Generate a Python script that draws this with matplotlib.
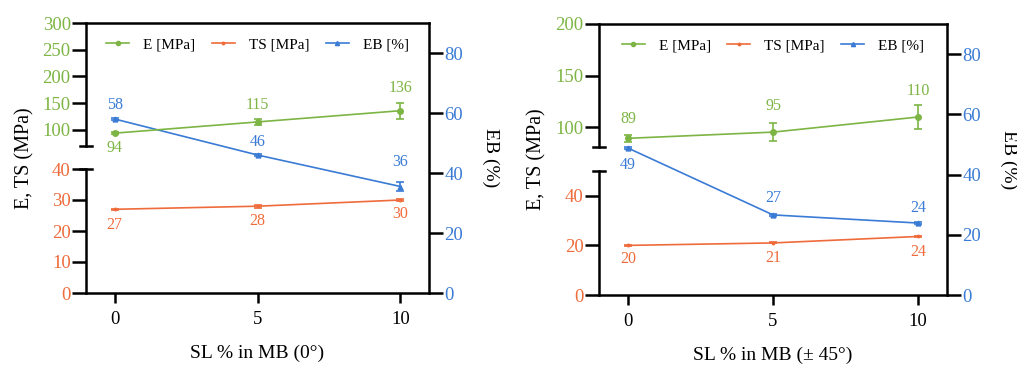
import matplotlib
matplotlib.use("Agg")
import matplotlib.pyplot as plt
from matplotlib.lines import Line2D

plt.rcParams["font.family"] = ["Liberation Serif", "DejaVu Serif"]

GREEN = "#7DB544"
ORANGE = "#EF6B3B"
BLUE = "#3A7BD5"

sl = [0, 5, 10]

# panel A: SL % in MB (0 deg)
e_0 = [94, 115, 136]
e_0_err = [1.5, 6, 15]
ts_0 = [27, 28, 30]
ts_0_err = [0.2, 0.5, 0.2]
eb_0 = [58, 46, 35.5]
eb_0_err = [0.3, 0.4, 1.6]

# panel B: SL % in MB (+/- 45 deg)
e_45 = [89.4, 95.4, 110]
e_45_err = [3.2, 9, 11.5]
ts_45 = [20, 21, 23.6]
ts_45_err = [0.2, 0.2, 0.2]
eb_45 = [48.8, 26.6, 23.9]
eb_45_err = [0.3, 0.4, 0.3]

W, H = 1017, 367


def rect(x0, x1, ytop, ybot):
    return [x0 / W, 1 - ybot / H, (x1 - x0) / W, (ybot - ytop) / H]


def style_seg(ax, color):
    for s in ["top", "right", "bottom"]:
        ax.spines[s].set_visible(False)
    ax.spines["left"].set_linewidth(1.8)
    ax.patch.set_alpha(0)
    ax.set_xlim(-1, 11)
    ax.set_xticks([])
    ax.tick_params(axis="y", length=10, width=1.8, colors="black", labelcolor=color,
                   labelsize=13.5, pad=1)


def panel(box, split, up_lim, up_ticks, lo_lim, lo_ticks, e, e_err, ts, ts_err, eb, eb_err,
          offs, xlabel, ylab_x):
    x0, x1, ytop, ybot = box
    ysplit_a, ysplit_b = split
    bg = fig.add_axes(rect(x0, x1, ytop, ybot))
    up = fig.add_axes(rect(x0, x1, ytop, ysplit_a))
    lo = fig.add_axes(rect(x0, x1, ysplit_b, ybot))

    # background axes carries EB on the right and the x axis
    bg.spines["left"].set_visible(False)
    for s in ["top", "right", "bottom"]:
        bg.spines[s].set_linewidth(1.8)
    bg.yaxis.tick_right()
    bg.yaxis.set_label_position("right")
    bg.set_ylim(0, 90)
    bg.set_yticks([0, 20, 40, 60, 80])
    bg.tick_params(axis="y", length=10, width=1.8, labelcolor=BLUE, labelsize=13.5, pad=1)
    bg.tick_params(axis="x", length=7, width=1.8, labelsize=13.5, pad=6)
    bg.set_xlim(-1, 11)
    bg.set_xticks(sl)
    bg.set_xlabel(xlabel, fontsize=14, labelpad=12)
    bg.set_ylabel("EB (%)", fontsize=14, rotation=270, va="bottom", labelpad=14)

    style_seg(up, GREEN)
    up.set_ylim(*up_lim)
    up.set_yticks(up_ticks)
    style_seg(lo, ORANGE)
    lo.set_ylim(*lo_lim)
    lo.set_yticks(lo_ticks)

    # break caps on the left spine
    up.plot([-0.018, 0.018], [0, 0], transform=up.transAxes, color="black", lw=1.8,
            clip_on=False)
    lo.plot([-0.018, 0.018], [1, 1], transform=lo.transAxes, color="black", lw=1.8,
            clip_on=False)

    kw = dict(lw=1.2, capsize=3, elinewidth=1.2, capthick=1.2, clip_on=False)
    up.errorbar(sl, e, yerr=e_err, fmt="-o", color=GREEN, ms=4, **kw)
    lo.errorbar(sl, ts, yerr=ts_err, fmt="-o", color=ORANGE, ms=1.8, **kw)
    bg.errorbar(sl, eb, yerr=eb_err, fmt="-^", color=BLUE, ms=3.5, **kw)

    for ax, vals, col, off in [(up, e, GREEN, offs[0]), (lo, ts, ORANGE, offs[1]),
                               (bg, eb, BLUE, offs[2])]:
        for xv, yv, dy in zip(sl, vals, off):
            ax.annotate(f"{yv:.0f}", (xv, yv), xytext=(0, dy), textcoords="offset points",
                        ha="center", va="center", color=col, fontsize=11.5)

    handles = [
        Line2D([], [], color=GREEN, marker="o", ms=3, lw=1.2),
        Line2D([], [], color=ORANGE, marker="o", ms=1.8, lw=1.2),
        Line2D([], [], color=BLUE, marker="^", ms=3, lw=1.2),
    ]
    bg.legend(handles, ["E [MPa]", "TS [MPa]", "EB [%]"], ncol=3, frameon=False,
              loc="upper center", bbox_to_anchor=(0.5, 0.995), fontsize=11,
              handlelength=1.5, columnspacing=1.1, handletextpad=0.9)

    fig.text(ylab_x / W, 1 - (ytop + ybot) / 2 / H, "E, TS (MPa)", rotation=90,
             ha="center", va="center", fontsize=14.5)


fig = plt.figure(figsize=(W / 100, H / 100), dpi=100)

panel((86, 429, 23, 293), (146, 169), (70, 300), [100, 150, 200, 250, 300],
      (0, 40), [0, 10, 20, 30, 40], e_0, e_0_err, ts_0, ts_0_err, eb_0, eb_0_err,
      ([-11, 12, 16], [-11, -11, -10], [10, 9, 18]), "SL % in MB (0°)", 25)

panel((599, 947, 24, 295), (147, 171), (81, 200), [100, 150, 200],
      (0, 50), [0, 20, 40], e_45, e_45_err, ts_45, ts_45_err, eb_45, eb_45_err,
      ([14, 19, 19], [-10, -11, -11], [-12, 12, 11]), "SL % in MB (± 45°)", 537)

fig.savefig("out.png", dpi=100)
